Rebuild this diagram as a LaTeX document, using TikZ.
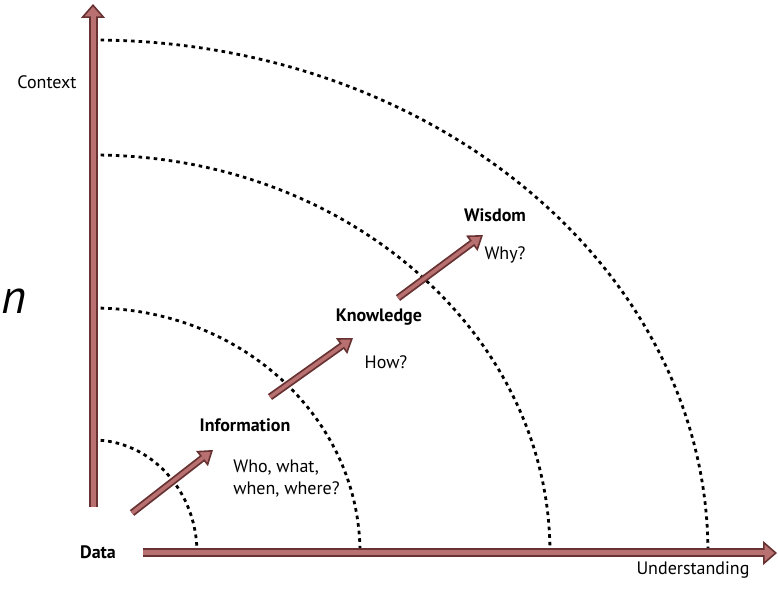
\documentclass[tikz,border=0pt]{standalone}
\usepackage{fontspec}
\setmainfont{PT Sans}
\usepackage{tikz}
\usetikzlibrary{arrows.meta,positioning}
\definecolor{barfill}{RGB}{184,112,112}
\definecolor{baredge}{RGB}{104,50,50}
\tikzstyle{bar} = [line width=4.5pt, draw=baredge, -{Triangle[length=7pt,width=12pt,line width=0.8pt,fill=barfill]}, postaction={draw=barfill, line width=2.5pt, -, shorten >=6pt}]
\tikzstyle{stage} = [line width=3.6pt, draw=baredge, -{Triangle[length=7pt,width=9.5pt,line width=0.8pt,fill=barfill]}, postaction={draw=barfill, line width=1.8pt, -, shorten >=6pt}]
\tikzstyle{ring} = [line width=1.4pt, dash pattern=on 1.8pt off 2pt]
\tikzstyle{title} = [font=\bfseries\fontsize{9}{11}\selectfont, inner sep=0pt]
\tikzstyle{lbl} = [font=\fontsize{9}{11}\selectfont, inner sep=0pt, align=left]

\begin{document}
\begin{tikzpicture}[x=0.5pt, y=0.5pt]
    \useasboundingbox (0,0) rectangle (778,590);
    \node[font=\itshape\fontsize{24}{26}\selectfont, inner sep=0pt, anchor=base west] (frag) at (1,276) {n};

    % axes
    \coordinate (O) at (93,37);
    \coordinate (ybot) at (93,83);
    \coordinate (ytop) at (93,586);
    \coordinate (xleft) at (143,37);
    \coordinate (xright) at (777,37);

    % rings
    \foreach \rx/\ry in {104/113, 267/245, 457/398, 615/513}
        \draw[ring] (O) ++(0,\ry) arc[start angle=90, end angle=0, x radius=\rx, y radius=\ry];

    \draw[bar] (ybot) -- (ytop);
    \draw[bar] (xleft) -- (xright);
    \node[lbl] (ctx) at (47,508) {Context};
    \node[title] (data) at (98,38) {Data};
    \node[lbl] (und) at (693,20) {Understanding};

    % stages
    \coordinate (s1a) at (132,77);
    \coordinate (s1b) at (213,140);
    \coordinate (s2a) at (270,193);
    \coordinate (s2b) at (353,252);
    \coordinate (s3a) at (398,292);
    \coordinate (s3b) at (483,355);
    \draw[stage] (s1a) -- (s1b);
    \draw[stage] (s2a) -- (s2b);
    \draw[stage] (s3a) -- (s3b);

    \node[title] (info) at (245,165) {Information};
    \node[lbl, anchor=west] (infoq) at (233,111) {Who, what,\\when, where?};
    \node[title] (know) at (379,273) {Knowledge};
    \node[lbl] (knowq) at (386,228) {How?};
    \node[title] (wis) at (495,375) {Wisdom};
    \node[lbl] (wisq) at (505,335) {Why?};
\end{tikzpicture}
\end{document}
